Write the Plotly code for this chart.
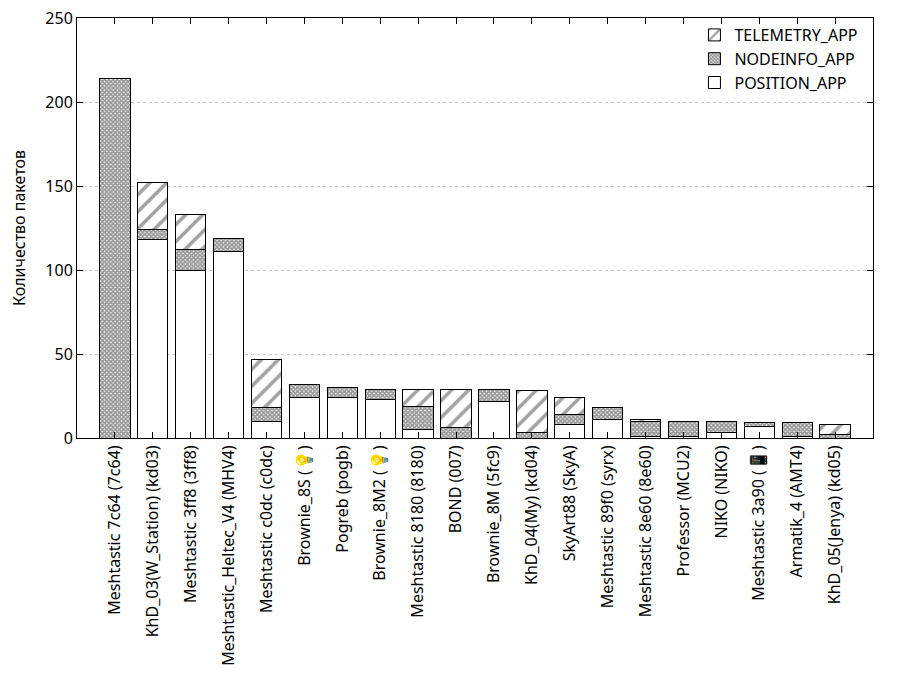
import plotly.graph_objects as go

nodes = [
    "Meshtastic 7c64 (7c64)", "KhD_03(W_Station) (kd03)", "Meshtastic 3ff8 (3ff8)",
    "Meshtastic_Heltec_V4 (MHV4)", "Meshtastic c0dc (c0dc)", "Brownie_8S (💡)",
    "Pogreb (pogb)", "Brownie_8M2 (💡)", "Meshtastic 8180 (8180)", "BOND (007)",
    "Brownie_8M (5fc9)", "KhD_04(My) (kd04)", "SkyArt88 (SkyA)", "Meshtastic 89f0 (syrx)",
    "Meshtastic 8e60 (8e60)", "Professor (MCU2)", "NIKO (NIKO)", "Meshtastic 3a90 (📱)",
    "Armatik_4 (AMT4)", "KhD_05(Jenya) (kd05)",
]
position_app = [0, 118, 100, 111, 10, 24, 24, 23, 5, 0, 22, 0, 8, 11, 1, 1, 3, 7, 1, 0]
nodeinfo_app = [214, 6, 12, 8, 8, 8, 6, 6, 14, 6, 7, 3, 6, 7, 9, 9, 7, 2, 8, 2]
telemetry_app = [0, 28, 21, 0, 29, 0, 0, 0, 10, 23, 0, 25, 10, 0, 1, 0, 0, 0, 0, 6]

font = "Noto Sans"
line = dict(color="black", width=1)

fig = go.Figure()
fig.add_trace(go.Bar(
    x=nodes, y=position_app, name="POSITION_APP", width=0.8,
    marker=dict(color="white", line=line),
))
fig.add_trace(go.Bar(
    x=nodes, y=nodeinfo_app, name="NODEINFO_APP", width=0.8,
    marker=dict(color="white", line=line,
                pattern=dict(shape="x", size=3, solidity=0.8, fgcolor="#333333", bgcolor="white")),
))
fig.add_trace(go.Bar(
    x=nodes, y=telemetry_app, name="TELEMETRY_APP", width=0.8,
    marker=dict(color="white", line=line,
                pattern=dict(shape="/", size=12, solidity=0.3, fgcolor="#444444", bgcolor="white")),
))

# page body adds about 8px offset, so margins are shifted to compensate
fig.update_layout(
    barmode="stack",
    width=900, height=700,
    margin=dict(l=69, r=35, t=10, b=270),
    plot_bgcolor="white", paper_bgcolor="white",
    font=dict(family=font, size=16, color="black"),
    showlegend=True,
    legend=dict(x=0.988, y=1.0, xanchor="right", yanchor="top",
                traceorder="reversed", bgcolor="rgba(0,0,0,0)",
                font=dict(size=16), itemwidth=30, tracegroupgap=0),
)
fig.update_xaxes(
    range=[-1, 20], tickangle=-90, showline=True, linecolor="black", linewidth=1,
    mirror="ticks", ticks="inside", ticklen=6, tickcolor="black",
    showgrid=False, tickfont=dict(size=16), automargin=False,
    ticklabeloverflow="allow",
)
fig.update_yaxes(
    range=[0, 250], dtick=50, showline=True, linecolor="black", linewidth=1,
    mirror="ticks", ticks="inside", ticklen=6, tickcolor="black",
    showgrid=True, gridcolor="#c8c8c8", griddash="dot", gridwidth=1,
    zeroline=False, tickfont=dict(size=16), automargin=False,
    ticklabeloverflow="allow",
    title=dict(text="Количество пакетов", font=dict(size=16), standoff=18),
)

fig.write_html("out.html")
